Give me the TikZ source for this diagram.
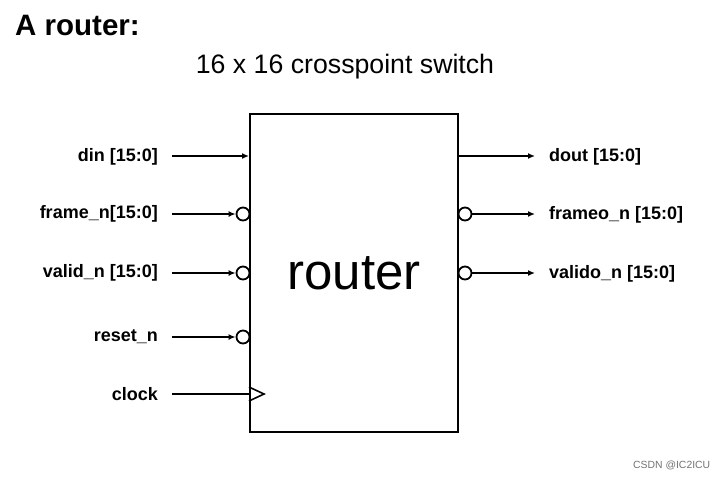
\documentclass[tikz,border=0pt]{standalone}
\usepackage{fontspec}
\setmainfont{Liberation Sans}
\usetikzlibrary{arrows.meta}
\begin{document}
\begin{tikzpicture}[x=1pt,y=-1pt,
  lbl/.style={font=\fontsize{18}{20}\selectfont\bfseries, inner sep=0pt},
  sig/.style={line width=2pt, -{Latex[length=7pt,width=6pt]}},
  bub/.style={circle, draw, line width=1.8pt, fill=white, inner sep=0pt, minimum size=13pt}]
\useasboundingbox (0,0) rectangle (726,479);
\node[anchor=west, inner sep=0pt, font=\fontsize{29.5}{31}\selectfont\bfseries] (title) at (15,25) {A router:};
\node[inner sep=0pt, font=\fontsize{26.7}{28}\selectfont] (sub) at (345,67) {16 x 16 crosspoint switch};
\node[draw, line width=2pt, minimum width=208pt, minimum height=318pt, inner sep=0pt,
      font=\fontsize{51}{53}\selectfont] (router) at (354,273) {router};
% left labels
\node[lbl, anchor=east] (ldin) at (158,157) {din [15:0]};
\node[lbl, anchor=east] (lframe) at (158,214) {frame\_n[15:0]};
\node[lbl, anchor=east] (lvalid) at (158,273) {valid\_n [15:0]};
\node[lbl, anchor=east] (lreset) at (158,337) {reset\_n};
\node[lbl, anchor=east] (lclock) at (158,394) {clock};
% left start points
\coordinate (sdin) at (172,156);
\coordinate (sframe) at (172,214);
\coordinate (svalid) at (172,273);
\coordinate (sreset) at (172,337);
\coordinate (sclock) at (172,394);
% bubbles
\node[bub] (bframe) at (243,214) {};
\node[bub] (bvalid) at (243,273) {};
\node[bub] (breset) at (243,337) {};
\draw[sig] (sdin) -- (router.west |- sdin);
\draw[sig] (sframe) -- (bframe.west);
\draw[sig] (svalid) -- (bvalid.west);
\draw[sig] (sreset) -- (breset.west);
\draw[line width=2pt] (sclock) -- (router.west |- sclock);
\coordinate (ck) at (router.west |- sclock);
\draw[line width=1.6pt] ([yshift=-7pt]ck) -- ([xshift=15pt]ck) -- ([yshift=7pt]ck);
% right side
\node[bub] (bframeo) at (465,214) {};
\node[bub] (bvalido) at (465,273) {};
\coordinate (edout) at (535,156);
\coordinate (eframeo) at (535,214);
\coordinate (evalido) at (535,273);
\draw[sig] (router.east |- edout) -- (edout);
\draw[sig] (bframeo.east) -- (eframeo);
\draw[sig] (bvalido.east) -- (evalido);
\node[lbl, anchor=west] (rdout) at (549,157) {dout [15:0]};
\node[lbl, anchor=west] (rframeo) at (549,215) {frameo\_n [15:0]};
\node[lbl, anchor=west] (rvalido) at (549,274) {valido\_n [15:0]};
\node[anchor=west, inner sep=0pt, text=black!55, font=\fontsize{10.4}{12}\selectfont] (wm) at (633,465) {CSDN @IC2ICU};
\end{tikzpicture}
\end{document}
